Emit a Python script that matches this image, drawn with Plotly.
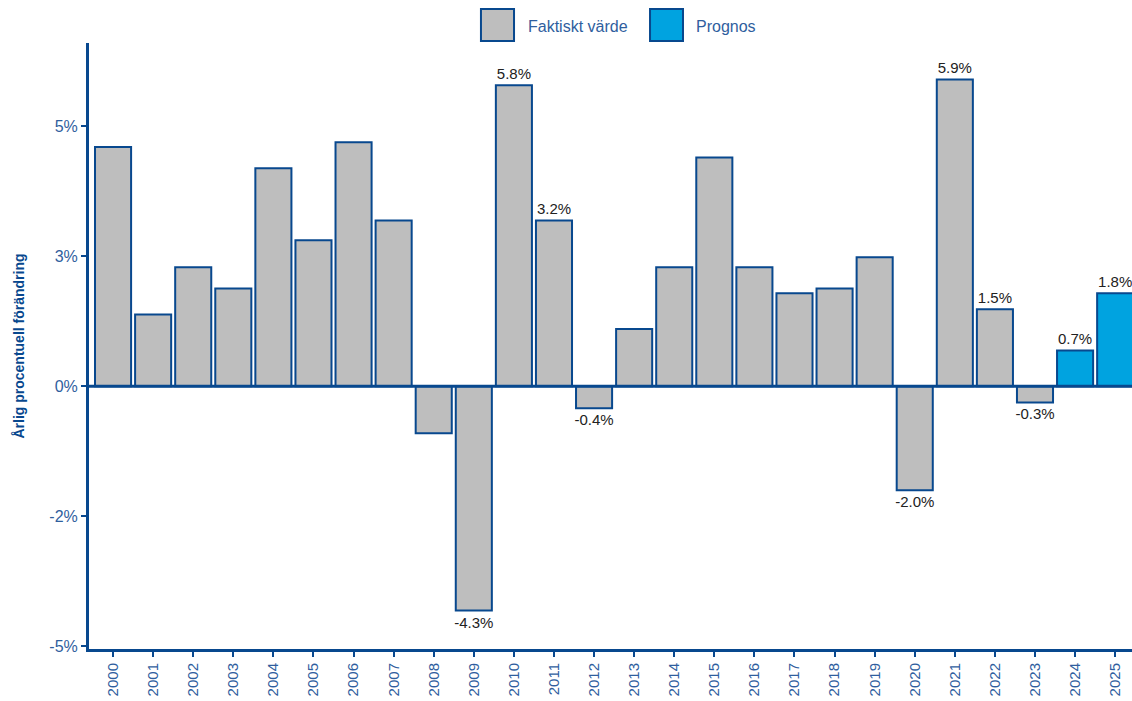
import plotly.graph_objects as go

years = [str(y) for y in range(2000, 2026)]
values = [4.6, 1.38, 2.29, 1.88, 4.19, 2.81, 4.69, 3.19, -0.90, -4.31,
          5.79, 3.19, -0.42, 1.10, 2.29, 4.40, 2.29, 1.79, 1.88, 2.48,
          -2.00, 5.90, 1.48, -0.31, 0.69, 1.79]
labels = ["", "", "", "", "", "", "", "", "", "-4.3%",
          "5.8%", "3.2%", "-0.4%", "", "", "", "", "", "", "",
          "-2.0%", "5.9%", "1.5%", "-0.3%", "0.7%", "1.8%"]
forecast_from = "2024"
tick_vals = [5, 2.5, 0, -2.5, -5]
tick_text = ["5%", "3%", "0%", "-2%", "-5%"]
series_names = ["Faktiskt värde", "Prognos"]

NAVY = "#08488E"
TICK = "#2F5E9E"
GRAY = "#BEBEBE"
BLUE = "#00A3E0"
FONT = "Liberation Sans, Arial"

idx = years.index(forecast_from)
fig = go.Figure()
for name, sl, col in [(series_names[0], slice(0, idx), GRAY), (series_names[1], slice(idx, None), BLUE)]:
    fig.add_trace(go.Bar(
        x=years[sl], y=values[sl], name=name,
        marker=dict(color=col, line=dict(color=NAVY, width=2)),
        text=labels[sl], textposition="outside", cliponaxis=False,
        constraintext="none",
        textfont=dict(family=FONT, size=15, color="#222222"),
        showlegend=False,
    ))

fig.add_shape(type="line", xref="paper", yref="y", x0=0, x1=1, y0=0, y1=0,
              line=dict(color=NAVY, width=3), layer="above")

# legend (manual, larger swatches)
leg = [(0.3758, 0.4075, 0.419, series_names[0], GRAY),
       (0.5379, 0.5695, 0.580, series_names[1], BLUE)]
for x0, x1, xt, name, col in leg:
    fig.add_shape(type="rect", xref="paper", yref="paper",
                  x0=x0, x1=x1, y0=1.0 + 2/606, y1=1.0 + 34/606,
                  fillcolor=col, line=dict(color=NAVY, width=2))
    fig.add_annotation(xref="paper", yref="paper", x=xt, y=1.0 + 17/606,
                       text=name, showarrow=False, xanchor="left", yanchor="middle",
                       font=dict(family=FONT, size=16, color=TICK))

fig.update_layout(
    width=1132, height=701,
    margin=dict(l=89, r=0, t=43, b=52),
    plot_bgcolor="white", paper_bgcolor="white",
    barmode="relative", bargap=0.1,
    font=dict(family=FONT, color=TICK),
    xaxis=dict(
        type="category", categoryorder="array", categoryarray=years,
        range=[-0.6, 25.42],
        showline=True, linecolor=NAVY, linewidth=3,
        ticks="outside", tickcolor=NAVY, ticklen=5, tickwidth=2,
        tickangle=-90, tickfont=dict(size=15, color=TICK),
        showgrid=False, zeroline=False,
    ),
    yaxis=dict(
        range=[-5.05, 6.6],
        tickvals=tick_vals, ticktext=tick_text,
        showline=True, linecolor=NAVY, linewidth=3,
        ticks="outside", tickcolor=NAVY, ticklen=5, tickwidth=2,
        tickfont=dict(size=16, color=TICK),
        showgrid=False, zeroline=False,
        title=dict(text="Årlig procentuell förändring", standoff=22,
                   font=dict(size=14, color=NAVY, family=FONT, weight="bold")),
    ),
)

fig.write_html("out.html", config={"displayModeBar": False},
               post_script="document.body.style.margin='0px';")
